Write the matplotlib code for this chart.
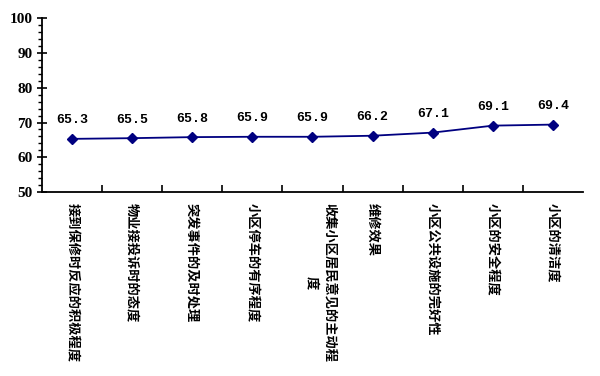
"""Line chart of residential property satisfaction scores."""

import matplotlib
matplotlib.use("Agg")
import matplotlib.pyplot as plt
import matplotlib.transforms as mtransforms
from matplotlib.ticker import MultipleLocator

categories = [
    "接到保修时反应的积极程度",
    "物业接投诉时的态度",
    "突发事件的及时处理",
    "小区停车的有序程度",
    "收集小区居民意见的主动程\n度",
    "维修效果",
    "小区公共设施的完好性",
    "小区的安全程度",
    "小区的清洁度",
]
scores = [65.3, 65.5, 65.8, 65.9, 65.9, 66.2, 67.1, 69.1, 69.4]


def main():
    plt.rcParams["font.family"] = ["Noto Sans CJK SC", "DejaVu Sans"]
    fig = plt.figure(figsize=(6, 3.76), dpi=100)
    ax = fig.add_axes([0.0695, 0.489, 0.9025, 0.463])

    x = list(range(len(categories)))
    ax.plot(x, scores, color="#000080", linewidth=1.3, marker="D",
            markersize=5.5, markerfacecolor="#000080",
            markeredgecolor="#000080")

    for xi, v in zip(x, scores):
        ax.annotate(f"{v:.1f}", (xi, v), xytext=(0, 9),
                    textcoords="offset points", ha="center", va="bottom",
                    fontsize=9.5, fontweight="bold",
                    family=["Liberation Mono", "DejaVu Sans Mono"])

    ax.set_xlim(-0.5, len(categories) - 0.5)
    ax.set_ylim(50, 100)
    ax.yaxis.set_major_locator(MultipleLocator(10))
    ax.yaxis.set_minor_locator(MultipleLocator(2))
    ax.tick_params(axis="y", which="major", direction="inout", length=7,
                   width=1.2, labelsize=11, pad=3)
    ax.tick_params(axis="y", which="minor", direction="out", length=3,
                   width=1)
    for lab in ax.get_yticklabels():
        lab.set_family(["Liberation Serif", "DejaVu Serif"])
        lab.set_fontweight("bold")

    # category boundaries carry the x ticks, labels sit at the centres
    ax.set_xticks([i + 0.5 for i in x[:-1]])
    ax.set_xticks(x, minor=True)
    ax.set_xticklabels([], minor=False)
    ax.set_xticklabels(categories, minor=True, rotation=-90, ha="center",
                       va="top", multialignment="center", fontsize=9.5,
                       fontweight="bold")
    ax.tick_params(axis="x", which="major", direction="in", length=5,
                   width=1.2)
    ax.tick_params(axis="x", which="minor", length=0, pad=8)

    # shift the wrapped label so its first line stays under its point
    wrapped = ax.get_xticklabels(minor=True)[4]
    wrapped.set_transform(wrapped.get_transform()
                          + mtransforms.ScaledTranslation(8 / 100, 0,
                                                          fig.dpi_scale_trans))

    ax.spines["top"].set_visible(False)
    ax.spines["right"].set_visible(False)
    ax.spines["left"].set_linewidth(1.3)
    ax.spines["bottom"].set_linewidth(1.3)

    fig.savefig("out.png", dpi=100, facecolor="white")


if __name__ == "__main__":
    main()
